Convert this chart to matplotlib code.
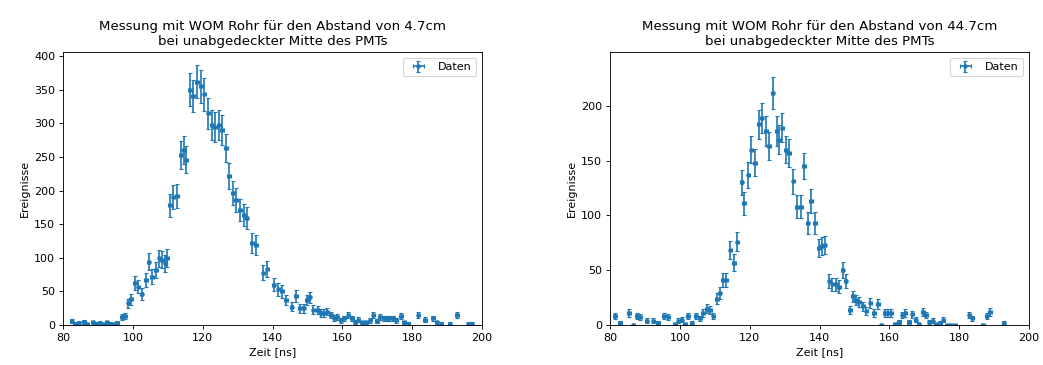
import numpy as np
import matplotlib
matplotlib.use("Agg")
import matplotlib.pyplot as plt

# Left: distance 4.7 cm
t_left = [82.5, 83.5, 84.5, 86.0, 87.0, 88.5, 89.5, 90.5, 91.5, 92.5, 93.5, 94.5, 95.5,
          96.8, 97.8, 98.7, 99.5, 100.6, 101.6, 102.5, 103.8, 104.5, 105.5, 106.6, 107.6,
          108.4, 109.3, 109.8, 110.7, 111.6, 112.6, 113.7, 114.6, 115.3, 116.4, 117.3,
          118.4, 119.5, 120.5, 121.6, 122.6, 123.5, 124.7, 125.6, 126.7, 127.6, 128.6,
          129.6, 130.7, 131.7, 132.6, 134.1, 135.3, 137.4, 138.5, 140.3, 141.7, 142.7,
          143.9, 145.5, 146.8, 147.9, 148.9, 149.8, 150.6, 151.7, 152.9, 153.8, 154.8,
          155.7, 156.7, 157.7, 158.6, 159.6, 160.5, 161.7, 162.7, 163.7, 164.6, 165.6,
          166.8, 168.0, 168.9, 169.9, 170.8, 171.8, 172.7, 173.6, 174.6, 175.5, 176.8,
          177.7, 178.9, 181.8, 183.7, 185.9, 187.0, 188.4, 190.7, 192.8, 196.1, 197.0]
n_left = [6, 2, 3, 5, 1, 4, 2, 3, 1, 4, 2, 1, 3,
          12, 13, 32, 38, 63, 57, 46, 67, 94, 72, 82, 99,
          97, 92, 100, 178, 190, 192, 253, 260, 246, 350, 340,
          362, 355, 343, 315, 298, 295, 297, 290, 263, 222, 196,
          186, 171, 164, 159, 122, 119, 78, 84, 60, 53, 50,
          37, 27, 43, 25, 25, 37, 41, 23, 22, 18, 18,
          20, 15, 11, 12, 7, 10, 15, 10, 5, 8, 4,
          4, 7, 15, 6, 12, 10, 10, 10, 10, 7, 13,
          4, 2, 15, 8, 10, 4, 2, 2, 15, 2, 2]

# Right: distance 44.7 cm
t_right = [81.4, 82.9, 85.5, 86.7, 87.6, 88.6, 90.5, 92.4, 93.8, 95.5, 96.7, 98.6, 99.6,
           100.5, 101.5, 102.4, 103.4, 104.6, 105.8, 106.7, 107.7, 108.7, 109.6, 110.6,
           111.4, 112.4, 113.3, 114.5, 115.5, 116.5, 117.7, 118.4, 119.6, 120.5, 121.5,
           122.7, 123.4, 124.7, 125.6, 126.6, 127.7, 128.5, 129.4, 130.4, 131.3, 132.5,
           133.6, 134.7, 135.6, 136.6, 137.6, 138.7, 139.9, 140.6, 141.5, 142.8, 143.7,
           144.8, 145.6, 146.6, 147.5, 148.7, 149.6, 150.4, 151.3, 152.5, 153.4, 154.6,
           155.6, 156.8, 157.7, 158.7, 159.6, 160.6, 161.5, 162.8, 163.7, 164.6, 165.6,
           166.6, 167.5, 168.4, 169.6, 170.5, 171.5, 172.4, 173.3, 174.5, 175.5, 176.5,
           177.5, 178.8, 182.9, 183.8, 186.8, 187.9, 188.9, 192.7]
n_right = [8, 2, 11, 0, 8, 7, 4, 4, 2, 8, 7, 1, 4,
           5, 1, 8, 2, 8, 6, 11, 15, 14, 8, 24,
           29, 41, 41, 68, 57, 76, 130, 111, 137, 160, 148,
           183, 189, 177, 163, 212, 177, 169, 180, 160, 157, 131,
           108, 108, 145, 93, 113, 93, 70, 72, 73, 40, 37,
           37, 35, 50, 40, 14, 26, 23, 21, 17, 13, 20,
           11, 19, 0, 11, 11, 11, 1, 3, 9, 11, 3,
           10, 5, 1, 12, 9, 3, 4, 1, 2, 5, 0,
           0, 0, 9, 6, 0, 8, 12, 2]

titles = ["Messung mit WOM Rohr für den Abstand von 4.7cm\nbei unabgedeckter Mitte des PMTs",
          "Messung mit WOM Rohr für den Abstand von 44.7cm\nbei unabgedeckter Mitte des PMTs"]
ylims = [406, 249]
err_scale = [1.3, 1.0]

DPI = 80
fig = plt.figure(figsize=(1043 / DPI, 365 / DPI), dpi=DPI)
ax1 = fig.add_axes([63 / 1043, 40 / 365, 419 / 1043, 273 / 365])
ax2 = fig.add_axes([610 / 1043, 40 / 365, 419 / 1043, 273 / 365])

for ax, t, n, title, ytop, es in zip([ax1, ax2], [t_left, t_right], [n_left, n_right],
                                     titles, ylims, err_scale):
    t = np.array(t)
    n = np.array(n, dtype=float)
    ax.errorbar(t, n, yerr=es * np.sqrt(n), xerr=0.5, fmt='.', capsize=2,
                color='#1f77b4', label='Daten')
    ax.set_xlim(80, 200)
    ax.set_ylim(0, ytop)
    ax.set_xlabel('Zeit [ns]')
    ax.set_ylabel('Ereignisse')
    ax.set_title(title)
    ax.legend(loc='upper right')

fig.savefig('out.png', dpi=DPI)
